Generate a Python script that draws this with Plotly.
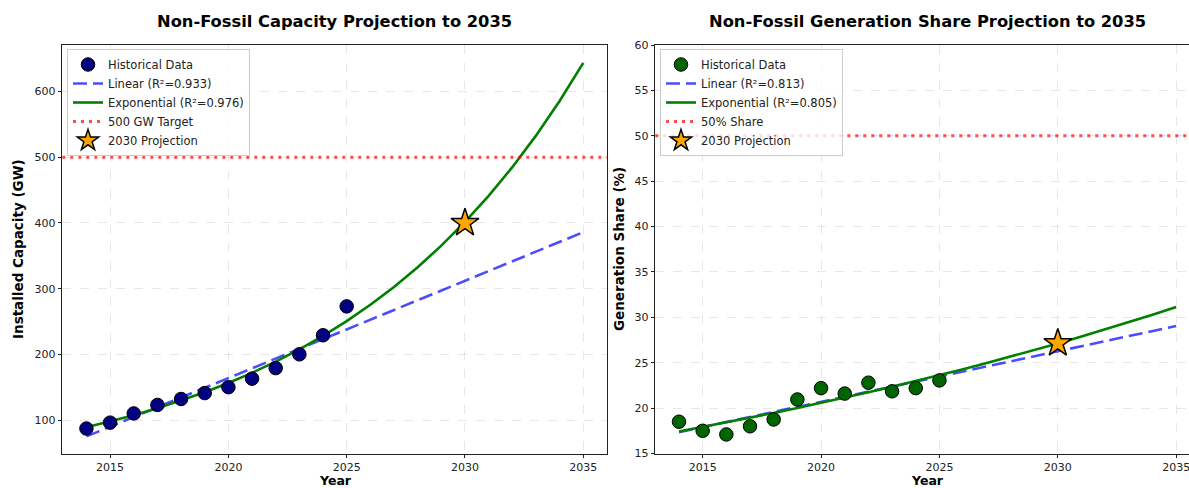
import plotly.graph_objects as go

# ---------------- data ----------------
hist_years = [2014, 2015, 2016, 2017, 2018, 2019, 2020, 2021, 2022, 2023, 2024, 2025]
capacity_hist = [87, 96, 110, 123, 132, 141, 150, 163, 179, 200, 229, 273]
share_hist = [18.5, 17.5, 17.1, 18.0, 18.75, 20.95, 22.2, 21.6, 22.8, 21.85, 22.2, 23.05]

fit_years = list(range(2014, 2036))
linear_years = [2014, 2035]
capacity_linear = [75, 386]
capacity_exp = [88.8, 97.6, 107.2, 117.8, 129.5, 142.3, 156.4, 171.8, 188.8, 207.5, 228.0,
                250.6, 275.4, 302.6, 332.6, 365.5, 401.6, 441.3, 485.0, 533.0, 585.7, 643.7]
share_linear = [17.35, 29.05]
share_exp = [17.43, 17.92, 18.42, 18.93, 19.46, 20.01, 20.57, 21.15, 21.74, 22.35, 22.98,
             23.62, 24.28, 24.96, 25.66, 26.38, 27.12, 27.88, 28.66, 29.46, 30.29, 31.14]

proj_year = [2030]
capacity_proj = [400]
share_proj = [27.15]

capacity_target = 500
share_target = 50

cap_labels = ["Historical Data", "Linear (R²=0.933)", "Exponential (R²=0.976)", "500 GW Target", "2030 Projection"]
share_labels = ["Historical Data", "Linear (R²=0.813)", "Exponential (R²=0.805)", "50% Share", "2030 Projection"]

x_ticks = [2015, 2020, 2025, 2030, 2035]
cap_ticks = [100, 200, 300, 400, 500, 600]
share_ticks = [15, 20, 25, 30, 35, 40, 45, 50, 55, 60]

# ---------------- style ----------------
W, H = 1189, 488
FONT = "DejaVu Sans"
LIN_COLOR = "rgba(0,0,255,0.7)"
EXP_COLOR = "#008000"
TGT_COLOR = "rgba(255,0,0,0.7)"
STAR_COLOR = "#FFA500"

fig = go.Figure()


def add_panel(xa, ya, legend, hist, hist_color, lin, expv, proj, target, labels):
    fig.add_trace(go.Scatter(x=linear_years, y=lin, mode="lines", name=labels[1],
                             line=dict(color=LIN_COLOR, width=2.6, dash="14px,6px"),
                             xaxis=xa, yaxis=ya, legend=legend, legendrank=2))
    fig.add_trace(go.Scatter(x=fit_years, y=expv, mode="lines", name=labels[2],
                             line=dict(color=EXP_COLOR, width=2.6),
                             xaxis=xa, yaxis=ya, legend=legend, legendrank=3))
    fig.add_trace(go.Scatter(x=[None], y=[None], mode="lines", name=labels[3],
                             line=dict(color=TGT_COLOR, width=3, dash="3px,5px"),
                             xaxis=xa, yaxis=ya, legend=legend, legendrank=4))
    fig.add_trace(go.Scatter(x=hist_years, y=hist, mode="markers", name=labels[0],
                             marker=dict(size=13.5, color=hist_color, line=dict(color="black", width=1)),
                             xaxis=xa, yaxis=ya, legend=legend, legendrank=1))
    fig.add_trace(go.Scatter(x=proj_year, y=proj, mode="markers", name=labels[4],
                             marker=dict(size=21, symbol="star", color=STAR_COLOR,
                                         line=dict(color="black", width=1.5)),
                             xaxis=xa, yaxis=ya, legend=legend, legendrank=5))
    fig.add_shape(type="line", xref=f"{xa} domain", yref=ya, x0=0, x1=1, y0=target, y1=target,
                  line=dict(color=TGT_COLOR, width=3, dash="3px,5px"), layer="above")


add_panel("x", "y", "legend", capacity_hist, "#000080", capacity_linear, capacity_exp,
          capacity_proj, capacity_target, cap_labels)
add_panel("x2", "y2", "legend2", share_hist, "#006400", share_linear, share_exp,
          share_proj, share_target, share_labels)

ydom = [(H - 453.5) / H, (H - 45) / H]
xdom1 = [62.3 / W, 606.7 / W]
xdom2 = [655.3 / W, 1.0]

axis_common = dict(showline=True, linecolor="#222222", linewidth=1.1, ticks="outside",
                   ticklen=3.5, tickwidth=1, tickcolor="#222222", automargin=False,
                   showgrid=True, gridcolor="rgba(176,176,176,0.3)", griddash="dash", gridwidth=1,
                   zeroline=False, ticklabeloverflow="allow",
                   tickfont=dict(family=FONT, size=11, color="#222222"))

legend_common = dict(bgcolor="rgba(255,255,255,0.8)", bordercolor="#cccccc", borderwidth=1,
                     font=dict(family=FONT, size=11.5, color="#222222"), tracegroupgap=0,
                     xanchor="left", yanchor="top", itemsizing="trace")

fig.update_layout(
    width=W, height=H,
    margin=dict(l=0, r=0, t=0, b=0, pad=0, autoexpand=False),
    paper_bgcolor="white", plot_bgcolor="white",
    font=dict(family=FONT, color="#222222"),
    xaxis=dict(domain=xdom1, range=[2012.98, 2035.99], tickvals=x_ticks, mirror=True, anchor="y", **axis_common),
    yaxis=dict(domain=ydom, range=[49, 671], tickvals=cap_ticks, mirror=True, anchor="x", **axis_common),
    xaxis2=dict(domain=xdom2, range=[2013.0, 2035.54], tickvals=x_ticks, mirror=True, anchor="y2", **axis_common),
    yaxis2=dict(domain=ydom, range=[15, 60], tickvals=share_ticks, mirror=False, anchor="x2", **axis_common),
    legend=dict(x=67 / W, y=(H - 49) / H, **legend_common),
    legend2=dict(x=660 / W, y=(H - 49) / H, **legend_common),
    showlegend=True,
)

title_font = dict(family=FONT, size=16.3, color="black", weight="bold")
label_font = dict(family=FONT, size=13.5, color="black", weight="bold")
year_font = dict(family=FONT, size=12.5, color="black", weight="bold")
annos = [
    dict(text="Non-Fossil Capacity Projection to 2035", x=334.5 / W, y=(H - 21) / H, font=title_font),
    dict(text="Non-Fossil Generation Share Projection to 2035", x=927.5 / W, y=(H - 21) / H, font=title_font),
    dict(text="Year", x=335 / W, y=(H - 480) / H, font=year_font),
    dict(text="Year", x=927 / W, y=(H - 480) / H, font=year_font),
    dict(text="Installed Capacity (GW)", x=18 / W, y=(H - 249) / H, font=label_font, textangle=-90),
    dict(text="Generation Share (%)", x=619 / W, y=(H - 249) / H, font=label_font, textangle=-90),
]
for a in annos:
    fig.add_annotation(xref="paper", yref="paper", showarrow=False, xanchor="center",
                       yanchor="middle", borderpad=0, **a)

fig.write_html("out.html")
